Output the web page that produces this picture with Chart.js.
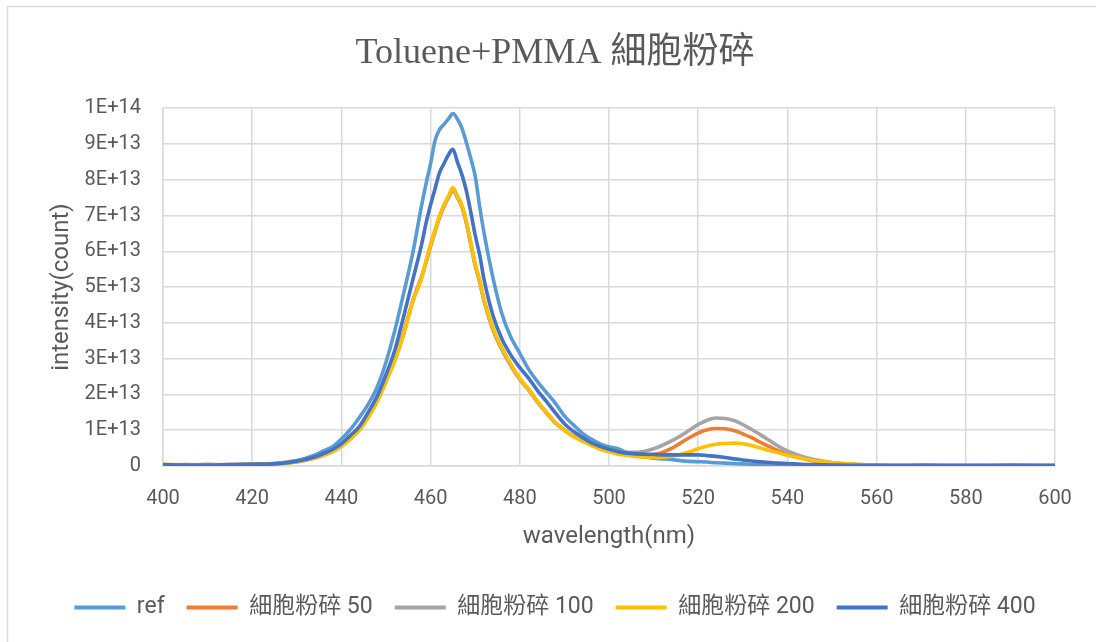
<!DOCTYPE html>
<html>
<head>
<meta charset="utf-8">
<style>
  body { margin: 0; background: #fff; }
  .chart-container { position: relative; width: 1096px; height: 642px; }
</style>
</head>
<body>
<div class="chart-container">
    <canvas id="myChart"></canvas>
</div>

<script src="https://cdn.jsdelivr.net/npm/chart.js@4/dist/chart.umd.min.js"></script>

<script>
    // spectra, intensity in units of 1E+13 counts
    const UNIT = 1e13;

    const wavelength = [
        400, 405, 410, 415, 420, 425, 430,
        434, 436, 438, 440, 442, 444, 446, 448, 450, 452, 454, 456, 458,
        459, 460, 461, 462, 463, 464, 465, 466, 467, 468, 469, 470, 471, 472,
        474, 476, 478, 480, 482, 484, 486, 488, 490, 492, 494, 496, 498, 500,
        502, 504, 506, 508, 510, 512, 514, 516, 518, 520, 522, 524, 526, 528, 530, 532, 534, 536, 538, 540,
        543, 546, 550, 555, 560, 565, 570, 580, 590, 600
    ];

    const ref = [
        0.03, 0.02, 0.04, 0.03, 0.06, 0.07, 0.15,
        0.30, 0.42, 0.54, 0.75, 1.02, 1.35, 1.72, 2.20, 2.90, 3.80, 4.85, 5.95, 7.30,
        7.90, 8.45, 9.10, 9.40, 9.55, 9.70, 9.85, 9.70, 9.45, 9.05, 8.60, 8.10, 7.25, 6.50,
        5.25, 4.25, 3.60, 3.15, 2.70, 2.35, 2.05, 1.75, 1.40, 1.15, 0.92, 0.75, 0.62, 0.54,
        0.48, 0.38, 0.30, 0.25, 0.22, 0.20, 0.18, 0.15, 0.13, 0.12, 0.11, 0.09, 0.08, 0.07, 0.06, 0.05, 0.05, 0.04, 0.04, 0.03,
        0.03, 0.02, 0.02, 0.02, 0.02, 0.01, 0.02, 0.01, 0.02, 0.01
    ];

    const crush50 = [
        0.02, 0.04, 0.03, 0.04, 0.04, 0.07, 0.12,
        0.23, 0.31, 0.41, 0.56, 0.77, 1.02, 1.38, 1.83, 2.40, 3.00, 3.75, 4.62, 5.30,
        5.70, 6.15, 6.55, 6.95, 7.25, 7.50, 7.70, 7.50, 7.25, 6.80, 6.20, 5.60, 5.15, 4.60,
        3.80, 3.25, 2.80, 2.42, 2.12, 1.78, 1.48, 1.20, 1.00, 0.83, 0.70, 0.59, 0.49, 0.42,
        0.36, 0.33, 0.31, 0.31, 0.33, 0.38, 0.49, 0.64, 0.79, 0.92, 1.01, 1.05, 1.04, 0.99, 0.90, 0.79, 0.66, 0.54, 0.42, 0.33,
        0.22, 0.14, 0.08, 0.04, 0.03, 0.02, 0.02, 0.01, 0.02, 0.02
    ];

    const crush100 = [
        0.03, 0.03, 0.04, 0.03, 0.05, 0.06, 0.12,
        0.22, 0.30, 0.40, 0.55, 0.76, 1.01, 1.36, 1.81, 2.37, 2.97, 3.72, 4.60, 5.28,
        5.72, 6.18, 6.58, 6.97, 7.27, 7.52, 7.74, 7.52, 7.27, 6.82, 6.22, 5.62, 5.17, 4.62,
        3.82, 3.27, 2.82, 2.44, 2.14, 1.79, 1.49, 1.21, 1.01, 0.84, 0.71, 0.60, 0.51, 0.45,
        0.40, 0.38, 0.38, 0.41, 0.48, 0.58, 0.70, 0.84, 1.00, 1.16, 1.28, 1.34, 1.33, 1.27, 1.16, 1.02, 0.87, 0.71, 0.55, 0.42,
        0.28, 0.18, 0.10, 0.05, 0.03, 0.02, 0.02, 0.02, 0.01, 0.02
    ];

    const crush200 = [
        0.05, 0.03, 0.04, 0.03, 0.05, 0.06, 0.11,
        0.22, 0.30, 0.40, 0.55, 0.75, 1.00, 1.35, 1.80, 2.35, 2.95, 3.70, 4.60, 5.25,
        5.75, 6.20, 6.60, 7.00, 7.30, 7.55, 7.78, 7.55, 7.30, 6.85, 6.25, 5.65, 5.20, 4.65,
        3.85, 3.30, 2.85, 2.45, 2.15, 1.80, 1.50, 1.22, 1.00, 0.83, 0.70, 0.58, 0.47, 0.40,
        0.33, 0.30, 0.27, 0.25, 0.24, 0.24, 0.27, 0.32, 0.39, 0.48, 0.56, 0.61, 0.63, 0.64, 0.62, 0.57, 0.50, 0.43, 0.37, 0.30,
        0.22, 0.15, 0.09, 0.05, 0.03, 0.03, 0.02, 0.02, 0.02, 0.03
    ];

    const crush400 = [
        0.04, 0.03, 0.03, 0.04, 0.05, 0.06, 0.13,
        0.25, 0.35, 0.46, 0.62, 0.85, 1.10, 1.50, 1.95, 2.55, 3.25, 4.20, 5.20, 6.20,
        6.80, 7.30, 7.75, 8.20, 8.45, 8.70, 8.85, 8.50, 8.15, 7.70, 7.10, 6.45, 5.90, 5.20,
        4.20, 3.55, 3.10, 2.75, 2.45, 2.10, 1.80, 1.48, 1.18, 0.97, 0.80, 0.65, 0.55, 0.47,
        0.40, 0.36, 0.34, 0.33, 0.32, 0.31, 0.31, 0.31, 0.31, 0.31, 0.29, 0.27, 0.24, 0.20, 0.17, 0.14, 0.12, 0.10, 0.08, 0.07,
        0.05, 0.04, 0.03, 0.02, 0.02, 0.01, 0.02, 0.01, 0.02, 0.01
    ];

    const seriesNames = ['ref', '細胞粉碎 50', '細胞粉碎 100', '細胞粉碎 200', '細胞粉碎 400'];
    const seriesValues = [ref, crush50, crush100, crush200, crush400];
    const seriesColors = ['#5B9BD5', '#ED7D31', '#A5A5A5', '#FFC000', '#4472C4'];

    const xTicks = { min: 400, max: 600, step: 20 };
    const yTicks = { min: 0, max: 1e14, step: 1e13 };

    const FONT = "Roboto, 'Noto Sans CJK TC', sans-serif";
    const TEXT = '#595959';
    const GRID = '#d9d9d9';

    // white background and the light chart frame
    const chartFrame = {
        id: 'chartFrame',
        beforeDraw(chart) {
            const c = chart.ctx;
            c.save();
            c.fillStyle = '#ffffff';
            c.fillRect(0, 0, chart.width, chart.height);
            c.strokeStyle = GRID;
            c.lineWidth = 1.5;
            c.strokeRect(7.5, 6.5, chart.width + 20, chart.height + 20);
            c.restore();
        }
    };

    const datasets = seriesValues.map((vals, i) => ({
        label: seriesNames[i],
        data: wavelength.map((w, k) => ({ x: w, y: vals[k] * UNIT })),
        borderColor: seriesColors[i],
        backgroundColor: seriesColors[i],
        borderWidth: 3.6,
        pointRadius: 0,
        cubicInterpolationMode: 'monotone',
        order: seriesValues.length - 1 - i   // later series drawn on top
    }));

    function sciLabel(v) {
        if (v === 0) return '0';
        const e = Math.floor(Math.log10(v) + 1e-9);
        const m = Math.round(v / Math.pow(10, e));
        return m + 'E+' + e;
    }

    const ctx = document.getElementById('myChart').getContext('2d');
    const myChart = new Chart(ctx, {
        type: 'line',
        data: { datasets: datasets },
        plugins: [chartFrame],
        options: {
            responsive: true,
            maintainAspectRatio: false,
            animation: false,
            layout: { padding: { top: 0, right: 0, bottom: 13, left: 14 } },
            plugins: {
                tooltip: { enabled: false },
                title: {
                    display: true,
                    text: 'Toluene+PMMA 細胞粉碎',
                    color: TEXT,
                    font: { family: "'Liberation Serif', 'Noto Sans CJK TC', serif", size: 36, weight: 'normal' },
                    padding: { top: 32, bottom: 33 }
                },
                legend: {
                    position: 'bottom',
                    labels: {
                        color: TEXT,
                        font: { family: FONT, size: 23 },
                        boxWidth: 51,
                        boxHeight: 4,
                        padding: 22,
                        sort: (a, b) => a.datasetIndex - b.datasetIndex,
                        generateLabels: (chart) =>
                            Chart.defaults.plugins.legend.labels.generateLabels(chart).map(item => {
                                item.lineWidth = 0;
                                return item;
                            })
                    }
                }
            },
            scales: {
                x: {
                    type: 'linear',
                    min: xTicks.min,
                    max: xTicks.max,
                    afterFit: (scale) => { scale.height = 108; },
                    ticks: {
                        stepSize: xTicks.step,
                        color: TEXT,
                        font: { family: FONT, size: 20 },
                        padding: 21
                    },
                    grid: { color: GRID, lineWidth: 1.5, drawTicks: false },
                    border: { color: GRID, width: 1.5 },
                    title: {
                        display: true,
                        text: 'wavelength(nm)',
                        color: TEXT,
                        font: { family: FONT, size: 24 },
                        padding: { top: 0, bottom: 23 }
                    }
                },
                y: {
                    min: yTicks.min,
                    max: yTicks.max,
                    afterFit: (scale) => { scale.width = 149; },
                    ticks: {
                        stepSize: yTicks.step,
                        color: TEXT,
                        font: { family: FONT, size: 20 },
                        padding: 22,
                        callback: (v) => sciLabel(v)
                    },
                    grid: { color: GRID, lineWidth: 1.5, drawTicks: false },
                    border: { color: GRID, width: 1.5 },
                    title: {
                        display: true,
                        text: 'intensity(count)',
                        color: TEXT,
                        font: { family: FONT, size: 24 },
                        padding: { top: 34, bottom: 0 }
                    }
                },
                // empty strip on the right of the plot area
                gutter: {
                    position: 'right',
                    min: 0,
                    max: 1,
                    afterFit: (scale) => { scale.width = 41; },
                    ticks: { display: false },
                    grid: { display: false, drawTicks: false },
                    border: { display: false }
                }
            }
        }
    });
</script>
</body>
</html>
